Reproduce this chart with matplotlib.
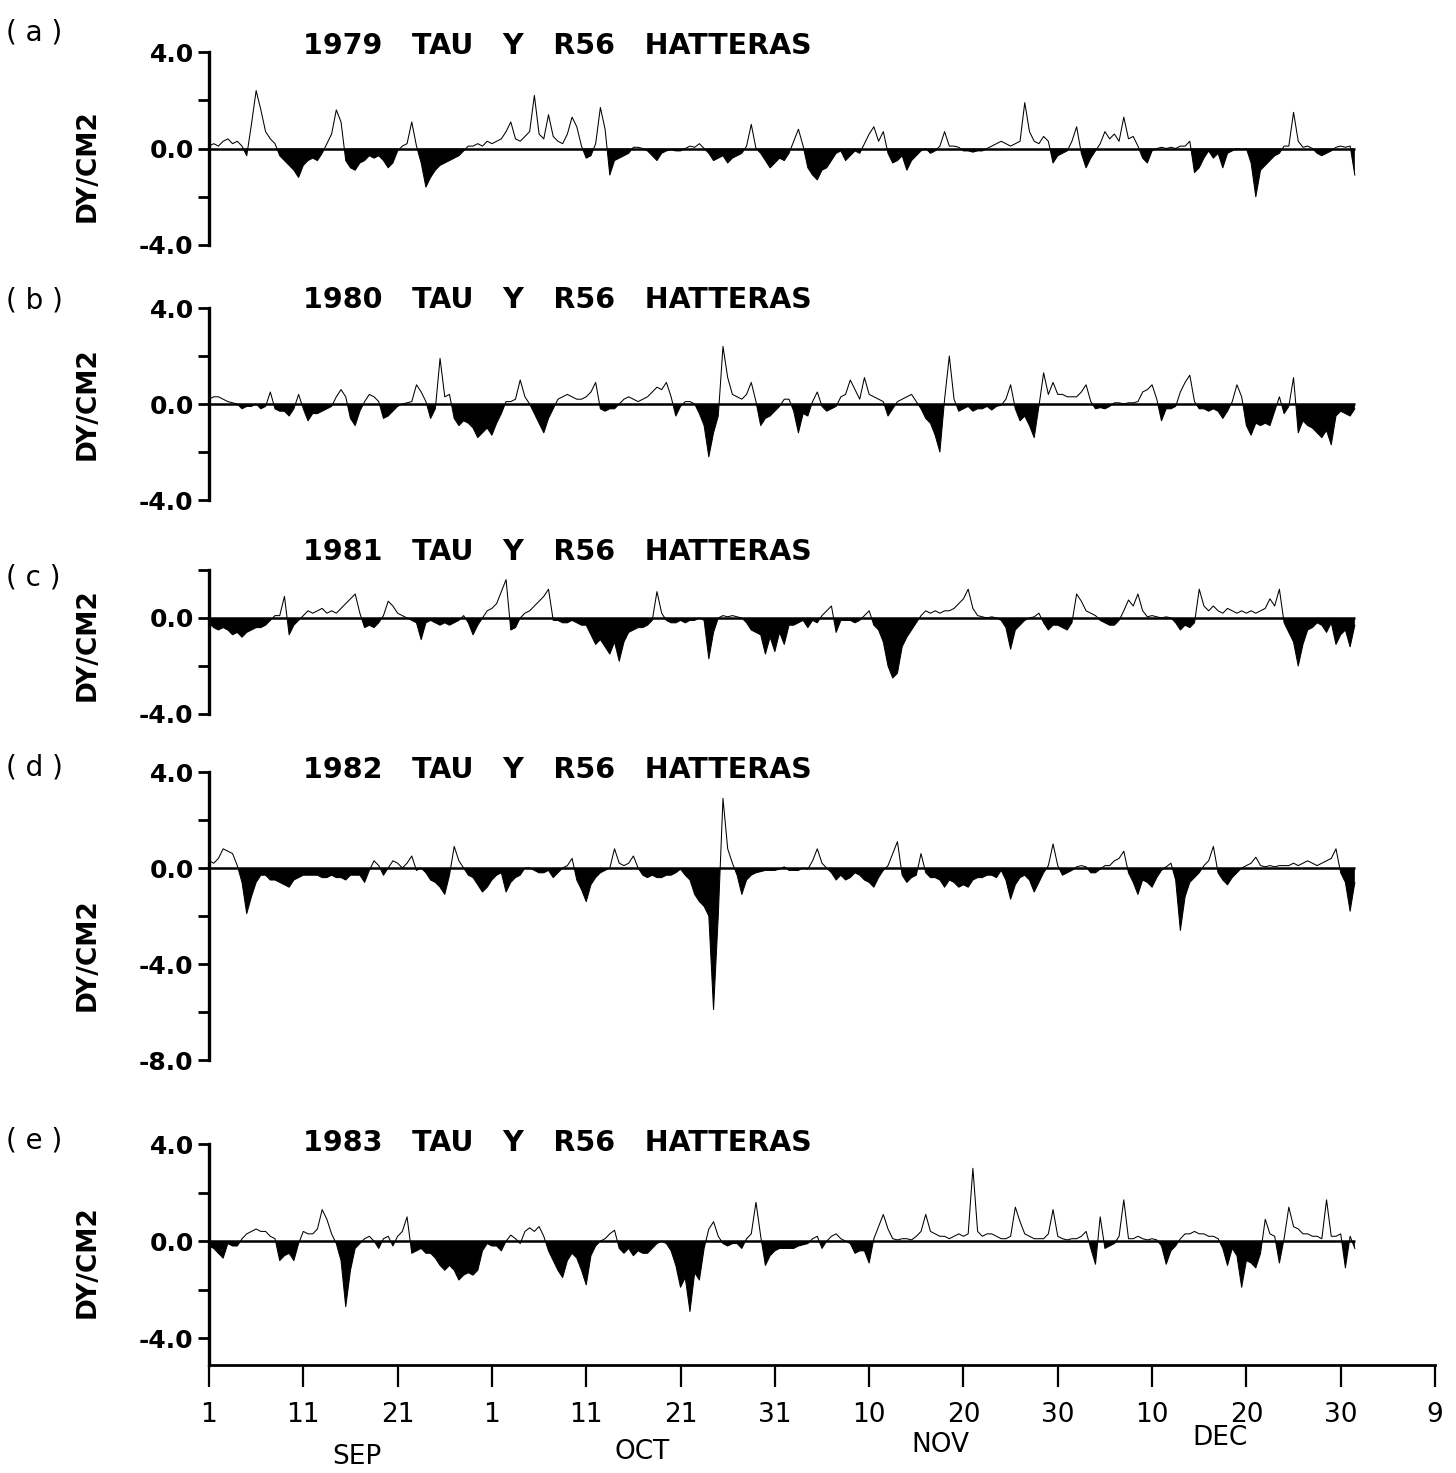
import numpy as np
import matplotlib
matplotlib.use("Agg")
import matplotlib.pyplot as plt
from matplotlib import transforms

# ---------------- data (days since 1 September, 0.5-day steps) ----------------
days = np.arange(0, 122, 0.5)

tau_1979 = [
    0.1, 0.2, 0.1, 0.3, 0.4, 0.2, 0.3, 0.1, -0.3, 1.0,
    2.4, 1.6, 0.7, 0.4, 0.2, -0.3, -0.5, -0.7, -0.9, -1.2,
    -0.7, -0.5, -0.4, -0.5, -0.2, 0.2, 0.6, 1.6, 1.1, -0.5,
    -0.8, -0.9, -0.6, -0.5, -0.3, -0.4, -0.3, -0.5, -0.8, -0.6,
    -0.1, 0.1, 0.2, 1.1, 0.1, -0.6, -1.6, -1.2, -0.9, -0.7,
    -0.6, -0.5, -0.4, -0.3, -0.1, 0.1, 0.1, 0.2, 0.1, 0.3,
    0.2, 0.3, 0.4, 0.7, 1.1, 0.4, 0.3, 0.5, 0.7, 2.2,
    0.6, 0.4, 1.4, 0.5, 0.3, 0.2, 0.6, 1.3, 0.9, 0.1,
    -0.4, -0.3, 0.2, 1.7, 0.8, -1.1, -0.5, -0.4, -0.3, -0.2,
    0.05, 0.05, 0.0, -0.1, -0.3, -0.5, -0.2, -0.1, -0.05, -0.1,
    -0.1, 0.0, 0.1, 0.05, 0.2, 0.0, -0.2, -0.5, -0.4, -0.3,
    -0.6, -0.4, -0.3, -0.2, 0.1, 1.0, 0.0, -0.2, -0.5, -0.8,
    -0.6, -0.4, -0.5, -0.2, 0.3, 0.8, 0.1, -0.8, -1.1, -1.3,
    -0.9, -0.8, -0.5, -0.2, -0.1, -0.5, -0.3, -0.1, -0.2, 0.2,
    0.6, 0.9, 0.3, 0.7, -0.2, -0.6, -0.5, -0.3, -0.9, -0.5,
    -0.3, -0.1, 0.0, -0.2, -0.1, 0.1, 0.7, 0.1, 0.1, 0.05,
    -0.1, -0.1, -0.15, -0.1, -0.1, 0.0, 0.1, 0.2, 0.3, 0.2,
    0.1, 0.2, 0.3, 1.9, 0.7, 0.3, 0.2, 0.5, 0.3, -0.6,
    -0.3, -0.2, -0.1, 0.3, 0.9, -0.2, -0.8, -0.4, -0.1, 0.2,
    0.7, 0.4, 0.6, 0.3, 1.3, 0.4, 0.5, 0.1, -0.4, -0.6,
    -0.1, 0.0, 0.05, 0.0, 0.05, 0.0, 0.1, 0.1, 0.3, -1.0,
    -0.8, -0.4, -0.1, -0.4, -0.2, -0.8, -0.2, -0.1, 0.0, -0.05,
    0.0, -0.6, -2.0, -0.9, -0.7, -0.5, -0.3, -0.2, 0.1, 0.1,
    1.5, 0.3, 0.05, 0.1, 0.0, -0.2, -0.3, -0.2, -0.1, 0.05,
    0.1, 0.05, 0.1, -1.1,
]

tau_1980 = [
    0.2, 0.3, 0.3, 0.2, 0.1, 0.05, 0.0, -0.2, -0.1, -0.1,
    0.0, -0.2, -0.1, 0.5, -0.2, -0.3, -0.3, -0.5, -0.2, 0.4,
    -0.2, -0.7, -0.4, -0.4, -0.3, -0.2, -0.1, 0.3, 0.6, 0.3,
    -0.6, -0.9, -0.3, 0.1, 0.4, 0.3, 0.1, -0.6, -0.5, -0.3,
    -0.1, 0.0, 0.05, 0.1, 0.8, 0.5, 0.1, -0.6, -0.2, 1.9,
    0.3, 0.4, -0.6, -0.9, -0.7, -0.8, -1.0, -1.4, -1.2, -1.0,
    -1.3, -0.8, -0.4, 0.1, 0.1, 0.2, 1.0, 0.3, 0.0, -0.4,
    -0.8, -1.2, -0.6, -0.2, 0.2, 0.3, 0.4, 0.3, 0.2, 0.2,
    0.3, 0.5, 0.9, -0.2, -0.3, -0.2, -0.2, 0.0, 0.2, 0.3,
    0.2, 0.1, 0.2, 0.3, 0.5, 0.7, 0.6, 0.9, 0.3, -0.5,
    -0.1, 0.1, 0.1, 0.0, -0.4, -0.9, -2.2, -1.2, -0.5, 2.4,
    1.1, 0.4, 0.3, 0.2, 0.4, 0.9, 0.1, -0.9, -0.6, -0.5,
    -0.3, -0.1, 0.2, 0.2, -0.3, -1.2, -0.4, -0.5, 0.1, 0.5,
    -0.1, -0.3, -0.2, -0.1, 0.3, 0.4, 1.0, 0.6, 0.2, 1.1,
    0.4, 0.3, 0.2, 0.1, -0.5, -0.2, 0.1, 0.2, 0.3, 0.4,
    0.1, -0.2, -0.6, -0.8, -1.3, -2.0, 0.2, 2.0, 0.2, -0.3,
    -0.2, -0.1, -0.3, -0.2, -0.2, -0.1, -0.25, -0.1, -0.05, 0.2,
    0.8, -0.2, -0.7, -0.5, -0.9, -1.4, -0.1, 1.3, 0.4, 0.9,
    0.4, 0.4, 0.3, 0.3, 0.3, 0.5, 0.8, 0.1, -0.2, -0.15,
    -0.2, -0.1, 0.05, 0.05, 0.0, 0.05, 0.05, 0.1, 0.5, 0.6,
    0.8, 0.2, -0.7, -0.2, -0.2, -0.1, 0.5, 0.9, 1.2, 0.1,
    -0.2, -0.2, -0.3, -0.2, -0.3, -0.6, -0.3, 0.1, 0.8, 0.3,
    -0.9, -1.3, -0.8, -0.9, -0.8, -0.9, -0.3, 0.3, -0.4, -0.1,
    1.1, -1.2, -0.7, -0.9, -1.0, -1.2, -1.4, -1.1, -1.7, -0.5,
    -0.3, -0.4, -0.5, -0.2,
]

tau_1981 = [
    -0.2, -0.4, -0.5, -0.4, -0.5, -0.7, -0.6, -0.8, -0.6, -0.5,
    -0.4, -0.4, -0.3, -0.1, 0.1, 0.1, 0.9, -0.7, -0.3, -0.1,
    0.1, 0.3, 0.2, 0.3, 0.4, 0.2, 0.3, 0.2, 0.4, 0.6,
    0.8, 1.0, 0.2, -0.4, -0.3, -0.4, -0.2, 0.1, 0.7, 0.5,
    0.2, 0.1, 0.0, -0.1, -0.2, -0.9, -0.2, -0.1, -0.2, -0.3,
    -0.2, -0.3, -0.2, -0.1, 0.1, -0.2, -0.7, -0.3, 0.0, 0.3,
    0.4, 0.6, 1.1, 1.6, -0.5, -0.4, 0.0, 0.2, 0.3, 0.5,
    0.7, 0.9, 1.2, -0.1, -0.1, -0.2, -0.2, -0.1, -0.2, -0.3,
    -0.3, -0.7, -1.1, -0.9, -1.2, -1.5, -1.0, -1.8, -1.0, -0.6,
    -0.5, -0.4, -0.4, -0.3, -0.1, 1.1, 0.2, -0.1, -0.2, -0.2,
    -0.1, -0.2, -0.1, -0.1, 0.0, -0.1, -1.7, -0.6, 0.0, 0.1,
    0.05, 0.1, 0.05, 0.0, -0.2, -0.5, -0.6, -0.7, -1.5, -0.8,
    -1.4, -0.6, -1.1, -0.3, -0.3, -0.2, -0.1, -0.4, -0.1, -0.2,
    0.1, 0.3, 0.5, -0.6, -0.1, -0.1, -0.1, -0.2, -0.1, 0.1,
    0.3, -0.3, -0.5, -1.0, -2.0, -2.5, -2.3, -1.2, -0.8, -0.5,
    -0.2, 0.1, 0.3, 0.2, 0.3, 0.2, 0.3, 0.3, 0.4, 0.6,
    0.8, 1.2, 0.4, 0.1, 0.05, 0.0, 0.05, 0.0, -0.1, -0.4,
    -1.3, -0.5, -0.3, -0.1, 0.0, 0.05, 0.2, -0.2, -0.5, -0.3,
    -0.3, -0.4, -0.5, -0.2, 1.0, 0.7, 0.3, 0.2, 0.1, -0.1,
    -0.2, -0.3, -0.3, -0.1, 0.3, 0.75, 0.5, 1.0, 0.3, 0.05,
    0.1, 0.05, 0.0, 0.05, 0.0, -0.2, -0.5, -0.3, -0.4, -0.2,
    1.2, 0.5, 0.3, 0.5, 0.3, 0.2, 0.4, 0.3, 0.2, 0.3,
    0.2, 0.3, 0.2, 0.3, 0.4, 0.8, 0.5, 1.2, -0.2, -0.6,
    -1.0, -2.0, -1.1, -0.5, -0.4, -0.2, -0.3, -0.6, -0.2, -1.1,
    -0.7, -0.5, -1.2, -0.3,
]

tau_1982 = [
    0.3, 0.2, 0.4, 0.8, 0.7, 0.6, 0.1, -0.6, -1.9, -1.2,
    -0.6, -0.3, -0.3, -0.5, -0.5, -0.6, -0.7, -0.8, -0.5, -0.4,
    -0.3, -0.3, -0.3, -0.3, -0.4, -0.4, -0.3, -0.4, -0.4, -0.5,
    -0.3, -0.3, -0.3, -0.6, -0.1, 0.3, 0.1, -0.3, 0.0, 0.3,
    0.2, 0.0, 0.2, 0.5, -0.1, 0.0, -0.2, -0.5, -0.6, -0.8,
    -1.1, -0.3, 0.9, 0.3, 0.0, -0.3, -0.4, -0.7, -1.0, -0.8,
    -0.5, -0.3, -0.2, -1.0, -0.6, -0.4, -0.3, 0.0, 0.0, -0.1,
    -0.2, -0.2, -0.1, -0.4, -0.2, 0.0, 0.1, 0.4, -0.5, -0.9,
    -1.4, -0.7, -0.4, -0.2, -0.1, 0.0, 0.8, 0.2, 0.1, 0.2,
    0.5, 0.0, -0.3, -0.4, -0.3, -0.4, -0.4, -0.3, -0.3, -0.2,
    -0.05, -0.3, -0.5, -1.1, -1.4, -1.6, -2.0, -5.9, -2.0, 2.9,
    0.8, 0.2, -0.3, -1.1, -0.5, -0.3, -0.2, -0.15, -0.1, -0.1,
    -0.1, -0.05, 0.05, -0.1, -0.1, -0.1, 0.0, -0.05, 0.3, 0.8,
    0.2, 0.0, -0.2, -0.5, -0.3, -0.5, -0.4, -0.2, -0.3, -0.5,
    -0.6, -0.8, -0.4, -0.1, 0.1, 0.6, 1.1, -0.3, -0.6, -0.4,
    -0.3, 0.6, -0.2, -0.4, -0.4, -0.5, -0.8, -0.5, -0.6, -0.8,
    -0.7, -0.8, -0.5, -0.4, -0.4, -0.3, -0.3, -0.4, -0.1, -0.5,
    -1.3, -0.7, -0.4, -0.3, -0.5, -1.0, -0.6, -0.2, 0.1, 1.0,
    0.1, -0.3, -0.2, -0.1, 0.05, 0.1, 0.05, -0.2, -0.2, -0.05,
    0.1, 0.1, 0.3, 0.4, 0.7, -0.2, -0.6, -1.1, -0.5, -0.6,
    -0.8, -0.4, -0.1, 0.05, 0.2, -0.5, -2.6, -1.2, -0.6, -0.4,
    -0.2, 0.1, 0.3, 0.9, -0.2, -0.5, -0.7, -0.4, -0.2, 0.0,
    0.1, 0.2, 0.45, 0.1, 0.05, 0.1, 0.05, 0.1, 0.1, 0.1,
    0.2, 0.1, 0.2, 0.3, 0.2, 0.1, 0.2, 0.3, 0.4, 0.8,
    -0.2, -0.6, -1.8, -0.6,
]

tau_1983 = [
    -0.2, -0.3, -0.5, -0.7, -0.1, -0.2, -0.2, 0.1, 0.3, 0.4,
    0.5, 0.4, 0.4, 0.2, 0.1, -0.8, -0.6, -0.5, -0.8, -0.1,
    0.4, 0.3, 0.3, 0.5, 1.3, 0.9, 0.3, -0.1, -0.8, -2.7,
    -1.2, -0.3, -0.1, 0.1, 0.2, 0.0, -0.3, 0.1, 0.2, -0.2,
    0.2, 0.4, 1.0, -0.5, -0.4, -0.3, -0.5, -0.5, -0.7, -1.0,
    -1.2, -1.0, -1.2, -1.6, -1.4, -1.3, -1.4, -1.2, -0.4, -0.1,
    -0.2, -0.2, -0.4, 0.0, 0.25, 0.1, -0.1, 0.4, 0.55, 0.4,
    0.6, 0.2, -0.4, -0.8, -1.2, -1.5, -0.8, -0.5, -0.7, -1.2,
    -1.8, -0.6, -0.2, 0.0, 0.1, 0.3, 0.45, -0.3, -0.5, -0.3,
    -0.6, -0.4, -0.5, -0.5, -0.3, -0.1, 0.0, -0.1, -0.4, -1.0,
    -1.9, -1.5, -2.9, -1.3, -1.6, -0.3, 0.5, 0.8, 0.2, -0.1,
    -0.2, -0.1, -0.1, -0.3, 0.1, 0.3, 1.6, 0.2, -1.0, -0.6,
    -0.4, -0.3, -0.3, -0.3, -0.3, -0.2, -0.15, -0.1, 0.1, 0.2,
    -0.3, 0.0, 0.2, 0.3, 0.1, 0.0, -0.1, -0.5, -0.4, -0.4,
    -0.9, 0.1, 0.6, 1.1, 0.5, 0.1, 0.05, 0.1, 0.1, 0.05,
    0.2, 0.4, 1.1, 0.4, 0.3, 0.2, 0.2, 0.1, 0.2, 0.3,
    0.2, 0.3, 3.0, 0.4, 0.2, 0.3, 0.3, 0.2, 0.1, 0.1,
    0.2, 1.4, 0.8, 0.3, 0.2, 0.1, 0.1, 0.1, 0.3, 1.3,
    0.2, 0.1, 0.05, 0.1, 0.1, 0.2, 0.4, -0.3, -0.95, 1.0,
    -0.3, -0.2, -0.1, 0.2, 1.7, 0.1, 0.1, 0.2, 0.1, 0.05,
    0.1, 0.05, -0.2, -0.95, -0.4, -0.2, 0.1, 0.3, 0.3, 0.4,
    0.3, 0.3, 0.2, 0.2, 0.1, -0.3, -1.0, -0.3, -0.6, -1.9,
    -0.8, -0.9, -1.1, -0.5, 0.9, 0.3, 0.2, -0.9, 0.1, 1.4,
    0.6, 0.5, 0.3, 0.3, 0.2, 0.2, 0.1, 1.7, 0.2, 0.2,
    0.3, -1.1, 0.2, -0.3,
]

years = ["1979", "1980", "1981", "1982", "1983"]
panel_tags = ["( a )", "( b )", "( c )", "( d )", "( e )"]
series = [tau_1979, tau_1980, tau_1981, tau_1982, tau_1983]

x_tick_days = [0, 10, 20, 30, 40, 50, 60, 70, 80, 90, 100, 110, 120, 130]
x_tick_labels = ["1", "11", "21", "1", "11", "21", "31", "10", "20", "30",
                 "10", "20", "30", "9"]
months = ["SEP", "OCT", "NOV", "DEC"]
month_days = [15.7, 45.9, 77.5, 107.2]

# ---------------- layout ----------------
W, H = 1456, 1473
fig = plt.figure(figsize=(W / 100, H / 100), dpi=100)
fig.patch.set_facecolor("white")


def fx(px):
    return px / W


def fy(py):
    return 1 - py / H


X_LEFT, X_RIGHT = 209, 1435
layout = [
    dict(top=52, bottom=245, ylim=(-4, 4), ticks=[4, 2, 0, -2, -4],
         tl=["4.0", "", "0.0", "", "-4.0"], title_y=46, tag_y=32, ylab_y=166),
    dict(top=308, bottom=500, ylim=(-4, 4), ticks=[4, 2, 0, -2, -4],
         tl=["4.0", "", "0.0", "", "-4.0"], title_y=300, tag_y=300, ylab_y=404),
    dict(top=570, bottom=714, ylim=(-4, 2), ticks=[2, 0, -2, -4],
         tl=["", "0.0", "", "-4.0"], title_y=552, tag_y=577, ylab_y=645),
    dict(top=772, bottom=1060, ylim=(-8, 4), ticks=[4, 2, 0, -2, -4, -6, -8],
         tl=["4.0", "", "0.0", "", "-4.0", "", "-8.0"], title_y=770, tag_y=768, ylab_y=955),
    dict(top=1144, bottom=1365, ylim=(-5.1, 4), ticks=[4, 2, 0, -2, -4],
         tl=["4.0", "", "0.0", "", "-4.0"], title_y=1143, tag_y=1141, ylab_y=1262),
]

FONT = "DejaVu Sans"

for i, (vals, year, tag, L) in enumerate(zip(series, years, panel_tags, layout)):
    vals = np.asarray(vals, dtype=float)
    assert len(vals) == len(days)
    ax = fig.add_axes([fx(X_LEFT), fy(L["bottom"]),
                       fx(X_RIGHT) - fx(X_LEFT), (L["bottom"] - L["top"]) / H])
    ax.set_xlim(0, 130)
    ax.set_ylim(*L["ylim"])
    ax.patch.set_alpha(0)

    ax.fill_between(days, vals, 0, where=vals < 0, interpolate=True,
                    color="black", lw=0)
    ax.plot(days, vals, color="black", lw=0.75)
    ax.hlines(0, days[0], days[-1], color="black", lw=1.8)

    for s in ["top", "right"]:
        ax.spines[s].set_visible(False)
    ax.spines["left"].set_linewidth(2.4)
    ax.set_yticks(L["ticks"])
    ax.set_yticklabels(L["tl"], fontsize=18, fontweight="bold", family=FONT)
    ax.tick_params(axis="y", direction="out", length=8, width=2, pad=3)

    last = (i == len(series) - 1)
    if last:
        ax.spines["bottom"].set_linewidth(2.0)
        ax.set_xticks(x_tick_days)
        ax.set_xticklabels(x_tick_labels, fontsize=19, family=FONT)
        ax.tick_params(axis="x", direction="out", length=16, width=1.6, pad=11)
        trans = transforms.blended_transform_factory(ax.transData, fig.transFigure)
        for m, d, py in zip(months, month_days, [1457, 1452, 1445, 1438]):
            ax.text(d, fy(py), m, transform=trans, ha="center", va="center",
                    fontsize=19, family=FONT)
    else:
        ax.spines["bottom"].set_visible(False)
        ax.set_xticks([])

    fig.text(fx(303), fy(L["title_y"]), f"{year}   TAU   Y   R56   HATTERAS",
             fontsize=20.5, fontweight="bold", family=FONT, ha="left", va="center")
    fig.text(fx(6), fy(L["tag_y"]), tag, fontsize=20, family=FONT,
             ha="left", va="center")
    fig.text(fx(88), fy(L["ylab_y"]), "DY/CM2", fontsize=19, fontweight="bold",
             family=FONT, rotation=90, ha="center", va="center")

fig.savefig("out.png", dpi=100, facecolor="white")
